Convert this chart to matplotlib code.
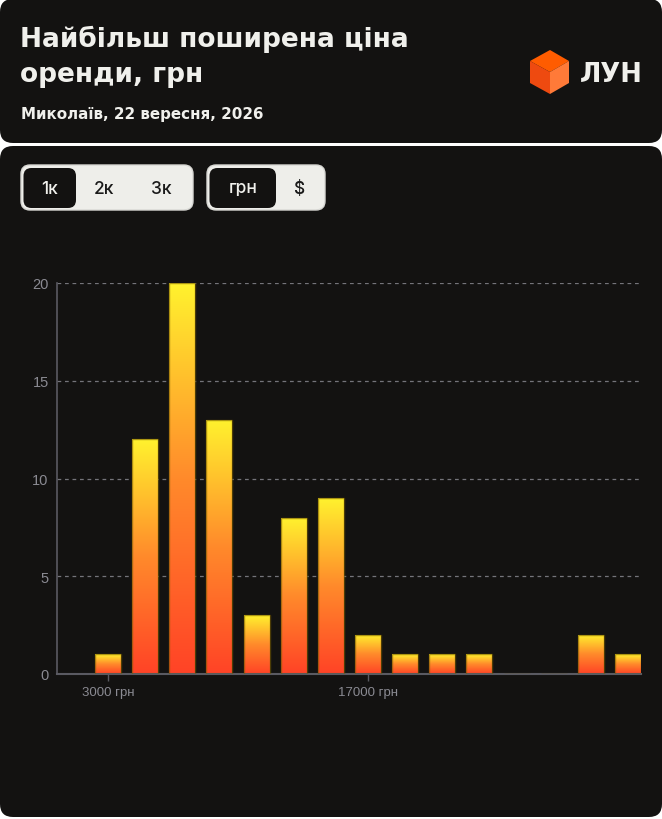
import numpy as np
import matplotlib
matplotlib.use("Agg")
from matplotlib import pyplot as plt
from matplotlib.patches import FancyBboxPatch, Polygon
from matplotlib.colors import LinearSegmentedColormap

# data
bin_centers = [3000, 5000, 7000, 9000, 11000, 13000, 15000, 17000, 19000,
               21000, 23000, 25000, 27000, 29000, 31000]
counts = [1, 12, 20, 13, 3, 8, 9, 2, 1, 1, 1, 0, 0, 2, 1]
y_ticks = [0, 5, 10, 15, 20]
x_ticks = [3000, 17000]
x_tick_labels = ["3000 грн", "17000 грн"]

title_lines = ["Найбільш поширена ціна", "оренди, грн"]
subtitle = "Миколаїв, 22 вересня, 2026"

W, H = 662, 820
BG = "#131211"
LIGHT = "#EEEEEA"
TXT = "#F0F0EC"
GREY = "#8a8a92"

fig = plt.figure(figsize=(W / 100, H / 100), dpi=100, facecolor="white")

# background layer in pixel units
bg = fig.add_axes([0, 0, 1, 1])
bg.set_xlim(0, W)
bg.set_ylim(H, 0)
bg.axis("off")

bg.add_patch(FancyBboxPatch((0, 0), W, 144, boxstyle="round,pad=0,rounding_size=13",
                            fc=BG, ec="none"))
bg.add_patch(FancyBboxPatch((0, 147), W, 671, boxstyle="round,pad=0,rounding_size=13",
                            fc=BG, ec="none"))

bg.text(20, 47, title_lines[0], family="DejaVu Sans", weight="bold", fontsize=19, color=TXT,
        va="baseline", ha="left")
bg.text(20, 82, title_lines[1], family="DejaVu Sans", weight="bold", fontsize=19, color=TXT,
        va="baseline", ha="left")
bg.text(21, 119, subtitle, family="DejaVu Sans", weight="bold", fontsize=10.9, color=TXT,
        va="baseline", ha="left")

# logo cube
cx, cy = 550, 73
top, bot, lx, rx, uy, ly = 51, 95, 530, 569, 62, 84
bg.add_patch(Polygon([(cx, top), (rx, uy), (cx, cy), (lx, uy)], closed=True, fc="#FF5C00", ec="none"))
bg.add_patch(Polygon([(lx, uy), (cx, cy), (cx, bot), (lx, ly)], closed=True, fc="#EE4A10", ec="none"))
bg.add_patch(Polygon([(cx, cy), (rx, uy), (rx, ly), (cx, bot)], closed=True, fc="#FF7A38", ec="none"))
bg.text(580, 82, "ЛУН", family="DejaVu Sans", weight="semibold", fontsize=18.5, color=TXT,
        va="baseline", ha="left")

# toggle buttons
def group(x0, x1, sel_x1, labels, positions):
    bg.add_patch(FancyBboxPatch((x0, 166), x1 - x0, 45, boxstyle="round,pad=0,rounding_size=9",
                                fc=LIGHT, ec="#d8d8d4", lw=1))
    bg.add_patch(FancyBboxPatch((x0 + 2.5, 169), sel_x1 - x0 - 2.5, 40,
                                boxstyle="round,pad=0,rounding_size=8",
                                fc=BG, ec="none"))
    for i, (lab, px) in enumerate(zip(labels, positions)):
        bg.text(px, 189, lab, family="Inter", weight="medium", fontsize=12.5,
                color=TXT if i == 0 else "#1a1a1a", ha="center", va="center")

group(21, 193, 76, ["1к", "2к", "3к"], [49.5, 104, 161])
group(207, 325, 276, ["грн", "$"], [243, 299])

# chart
ax = fig.add_axes([57 / W, 1 - 675 / H, (641 - 57) / W, (675 - 284) / H])
ax.set_facecolor("none")

bar_w = 1400
cmap = LinearSegmentedColormap.from_list("heat", ["#FF4326", "#FF8A2B", "#FFF22E"])
grad = np.linspace(1, 0, 256).reshape(-1, 1)
bars = ax.bar(bin_centers, counts, width=bar_w, color="none",
              edgecolor=(0.45, 0.35, 0.0, 0.6), lw=1, zorder=3)
for b, c in zip(bars, counts):
    if c == 0:
        continue
    im = ax.imshow(grad, cmap=cmap, extent=[b.get_x(), b.get_x() + b.get_width(), 0, c],
                   aspect="auto", zorder=2, interpolation="bilinear")
    im.set_clip_path(b)

ax.set_xlim(250, 31700)
ax.set_ylim(0, 20)
ax.set_yticks(y_ticks)
ax.set_xticks(x_ticks)
ax.set_xticklabels(x_tick_labels)
ax.tick_params(axis="y", length=0, pad=6, labelsize=10.5, labelcolor=GREY)
ax.tick_params(axis="x", length=5, width=1, color="#5a5a62", pad=4, labelsize=9.5, labelcolor=GREY)
for lab in ax.get_xticklabels() + ax.get_yticklabels():
    lab.set_family("Liberation Sans")
for yv in y_ticks[1:]:
    ax.axhline(yv, color="#74747a", lw=0.9, ls=(0, (3, 3)), zorder=1)
for s in ["top", "right"]:
    ax.spines[s].set_visible(False)
ax.spines["left"].set_color("#5a5a62")
ax.spines["bottom"].set_color("#5a5a62")
ax.spines["left"].set_linewidth(1.2)
ax.spines["bottom"].set_linewidth(1.5)

fig.savefig("out.png", dpi=100, facecolor="white")
